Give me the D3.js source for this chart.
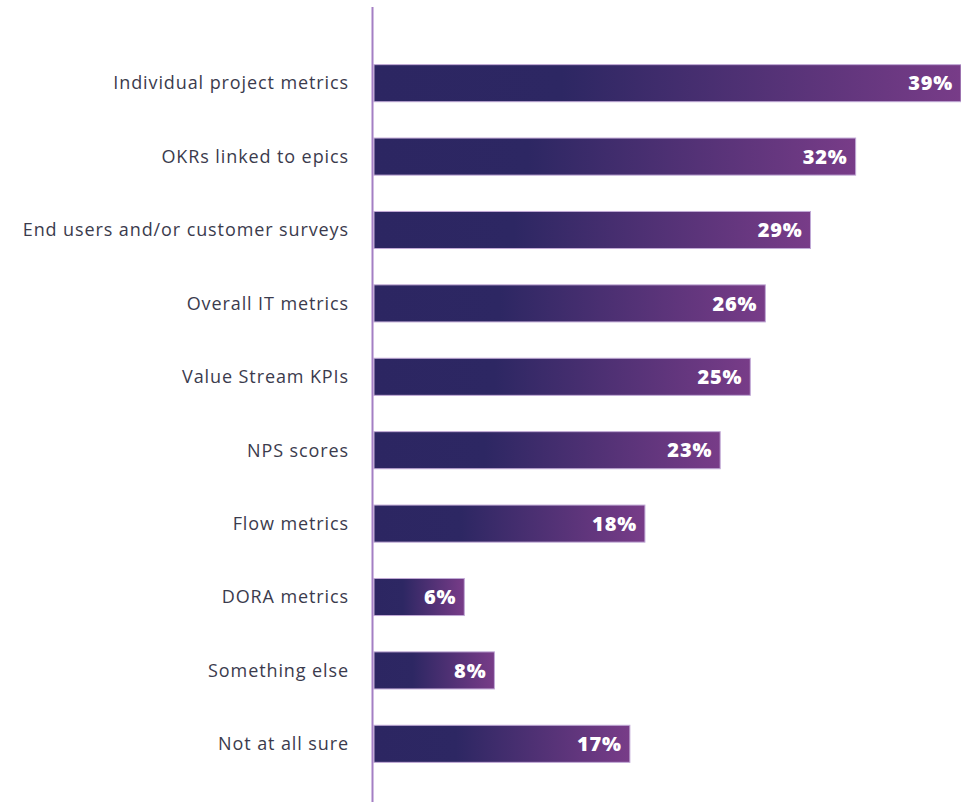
<!DOCTYPE html>
<html>
<head>
<meta charset="utf-8">
<script src="https://cdn.jsdelivr.net/npm/d3@7"></script>
<style>
  html, body { margin: 0; padding: 0; background: #fff; }
  svg { display: block; }
</style>
</head>
<body>
<svg id="chart" width="961" height="802"></svg>
<script>
// Survey answers and their shares (%)
const categories = [
  "Individual project metrics",
  "OKRs linked to epics",
  "End users and/or customer surveys",
  "Overall IT metrics",
  "Value Stream KPIs",
  "NPS scores",
  "Flow metrics",
  "DORA metrics",
  "Something else",
  "Not at all sure"
];
const values = [39, 32, 29, 26, 25, 23, 18, 6, 8, 17];

const svg = d3.select("#chart");
const width = 961, height = 802;
const x0 = 374;

const x = d3.scaleLinear().domain([0, 39]).range([x0, 961]);
const y = d3.scaleBand().domain(categories).range([46.3, 780.7]).paddingInner(0.495).paddingOuter(0.25);

// per-bar horizontal gradient: navy on the left fading to purple at the bar end
const defs = svg.append("defs");
const grad = defs.append("linearGradient")
  .attr("id", "barGrad")
  .attr("x1", "0%").attr("x2", "100%")
  .attr("y1", "0%").attr("y2", "0%");
grad.append("stop").attr("offset", "0%").attr("stop-color", "#2c2662");
grad.append("stop").attr("offset", "32%").attr("stop-color", "#2d2763");
grad.append("stop").attr("offset", "100%").attr("stop-color", "#783c88");

const data = categories.map((c, i) => ({ c, v: values[i] }));

svg.append("g").selectAll("rect")
  .data(data).join("rect")
  .attr("x", x(0))
  .attr("y", d => y(d.c))
  .attr("width", d => x(d.v) - x(0))
  .attr("height", y.bandwidth())
  .attr("fill", "url(#barGrad)")
  .attr("stroke", "#c1a9d6")
  .attr("stroke-width", 1);

// vertical axis line
svg.append("line")
  .attr("x1", 372.5).attr("x2", 372.5)
  .attr("y1", 7).attr("y2", height)
  .attr("stroke", "#a47fc4")
  .attr("stroke-width", 2);

// category labels
svg.append("g").selectAll("text")
  .data(data).join("text")
  .attr("x", 349)
  .attr("y", d => y(d.c) + y.bandwidth() / 2)
  .attr("dy", "0.35em")
  .attr("text-anchor", "end")
  .attr("font-family", "'Open Sans', 'Noto Sans', sans-serif")
  .attr("font-size", 18)
  .attr("letter-spacing", 0.9)
  .attr("fill", "#3b3b4d")
  .text(d => d.c);

// value labels inside bar ends
svg.append("g").selectAll("text")
  .data(data).join("text")
  .attr("x", d => x(d.v) - 8)
  .attr("y", d => y(d.c) + y.bandwidth() / 2)
  .attr("dy", "0.36em")
  .attr("text-anchor", "end")
  .attr("font-family", "'Open Sans', 'Noto Sans', sans-serif")
  .attr("font-weight", 800)
  .attr("font-size", 20)
  .attr("letter-spacing", 0.8)
  .attr("fill", "#ffffff")
  .text(d => d.v + "%");
</script>
</body>
</html>
